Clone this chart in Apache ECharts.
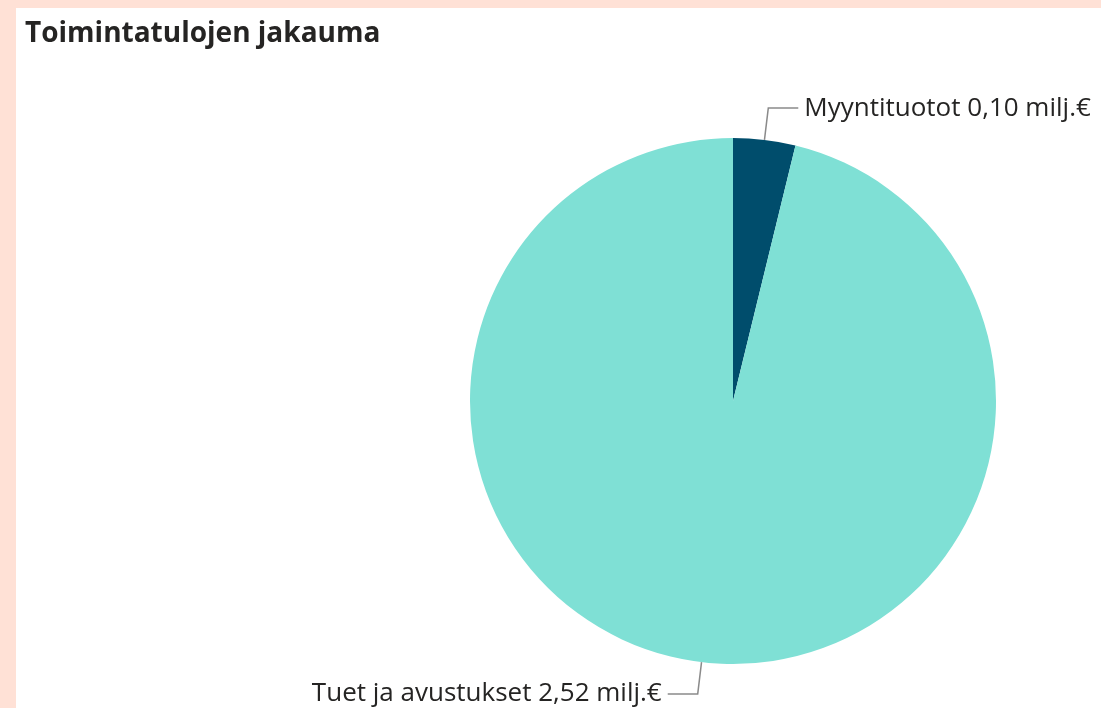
<!DOCTYPE html>
<html>
<head>
<meta charset="utf-8">
<script src="https://cdn.jsdelivr.net/npm/echarts@6/dist/echarts.min.js"></script>
<style>
html,body{margin:0;padding:0;background:#FFE1D6;}
#c{width:1101px;height:708px;}
</style>
</head>
<body>
<div id="c"></div>
<script>
const categories = ["Myyntituotot", "Tuet ja avustukset"];
const values = [0.10, 2.52];
const labelTexts = ["Myyntituotot 0,10 milj.€", "Tuet ja avustukset 2,52 milj.€"];
const colors = ["#004D6C", "#7FE0D5"];

const chart = echarts.init(document.getElementById('c'), null, {renderer: 'canvas'});
chart.setOption({
  backgroundColor: '#FFE1D6',
  animation: false,
  graphic: [{
    type: 'rect', left: 16, top: 8, shape: {width: 1085, height: 700},
    style: {fill: '#ffffff'}, z: -1
  }],
  title: {
    text: 'Toimintatulojen jakauma',
    left: 25, top: 20, padding: 0,
    textStyle: {fontFamily: 'Open Sans', fontSize: 28, fontWeight: 'bold', color: '#252423'}
  },
  series: [{
    type: 'pie',
    center: [733, 401],
    radius: 263,
    startAngle: 90,
    clockwise: true,
    data: categories.map((c, i) => ({name: c, value: values[i], itemStyle: {color: colors[i]}})),
    label: {
      show: true,
      position: 'outside',
      formatter: p => labelTexts[p.dataIndex],
      fontFamily: 'Open Sans',
      fontSize: 26,
      color: '#252423',
      distanceToLabelLine: 6
    },
    labelLine: {
      show: true, length: 32, length2: 30,
      lineStyle: {color: '#8a8a8a', width: 1.5}
    },
    emphasis: {disabled: true}
  }]
});
</script>
</body>
</html>
